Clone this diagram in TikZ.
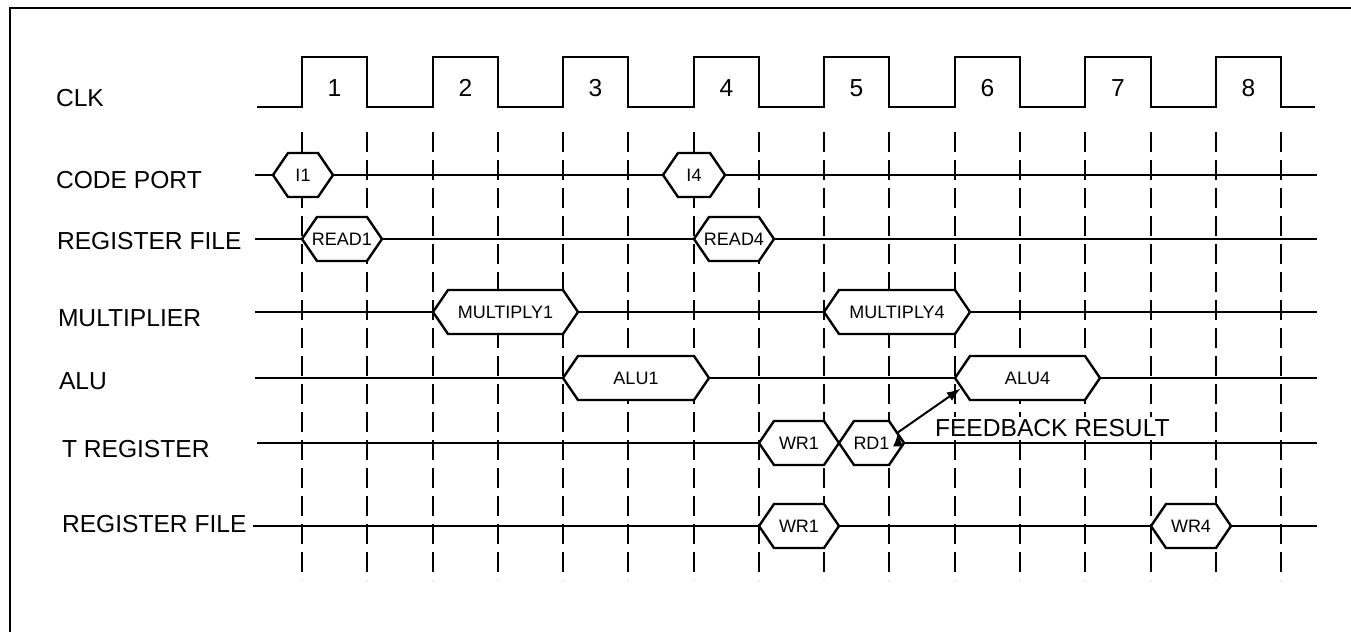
\documentclass[tikz,border=0pt]{standalone}
\usepackage{fontspec}
\setmainfont{Liberation Sans}
\usetikzlibrary{shapes.symbols,arrows.meta}
\tikzset{>={Latex[length=7pt,width=5pt]}}
\tikzset{
  phase/.style={signal,signal to=east and west,signal pointer angle=111.4,draw=black,line width=1.2pt,fill=white,minimum height=22pt,inner ysep=0pt,inner xsep=-8pt,font=\fontsize{9}{10}\selectfont},
  sig/.style={anchor=west,inner sep=0pt,font=\fontsize{12.3}{14}\selectfont},
  tick/.style={draw=black,line width=1pt,dash pattern=on 10pt off 4pt}
}

\begin{document}
\begin{tikzpicture}[x=0.5pt,y=-0.5pt,line width=1pt]
\useasboundingbox (0,0) rectangle (1351,632);
\draw (10,640) -- (10,8) -- (1360,8);
% clock edges
\draw[tick] (302,132) -- (302,580);
\draw[tick] (367,132) -- (367,580);
\draw[tick] (433,132) -- (433,580);
\draw[tick] (498,132) -- (498,580);
\draw[tick] (563,132) -- (563,580);
\draw[tick] (628,132) -- (628,580);
\draw[tick] (694,132) -- (694,580);
\draw[tick] (759,132) -- (759,580);
\draw[tick] (824,132) -- (824,580);
\draw[tick] (889,132) -- (889,580);
\draw[tick] (955,132) -- (955,580);
\draw[tick] (1020,132) -- (1020,580);
\draw[tick] (1085,132) -- (1085,580);
\draw[tick] (1151,132) -- (1151,580);
\draw[tick] (1216,132) -- (1216,580);
\draw[tick] (1281,132) -- (1281,580);
% clock
\draw (257,107) -- (302,107) -- (302,57) -- (367,57) -- (367,107) -- (433,107) -- (433,57) -- (498,57) -- (498,107) -- (563,107) -- (563,57) -- (628,57) -- (628,107) -- (694,107) -- (694,57) -- (759,57) -- (759,107) -- (824,107) -- (824,57) -- (889,57) -- (889,107) -- (955,107) -- (955,57) -- (1020,57) -- (1020,107) -- (1085,107) -- (1085,57) -- (1151,57) -- (1151,107) -- (1216,107) -- (1216,57) -- (1281,57) -- (1281,107) -- (1315,107);
\node[sig,anchor=center] (c1) at (334.5,88) {1};
\node[sig,anchor=center] (c2) at (465.5,88) {2};
\node[sig,anchor=center] (c3) at (595.5,88) {3};
\node[sig,anchor=center] (c4) at (726.5,88) {4};
\node[sig,anchor=center] (c5) at (856.5,88) {5};
\node[sig,anchor=center] (c6) at (987.5,88) {6};
\node[sig,anchor=center] (c7) at (1118,88) {7};
\node[sig,anchor=center] (c8) at (1248.5,88) {8};
% signal lines
\draw (255,175) -- (1317,175);
\draw (255,239) -- (1317,239);
\draw (255,312) -- (1317,312);
\draw (255,378) -- (1317,378);
\draw (257,443) -- (1317,443);
\draw (253,526) -- (1317,526);
% row labels
\node[sig] (clk) at (55,98) {CLK};
\node[sig] (code) at (55,180) {CODE PORT};
\node[sig] (regf) at (56,241) {REGISTER FILE};
\node[sig] (mult) at (57,318) {MULTIPLIER};
\node[sig] (alu) at (58,381) {ALU};
\node[sig] (treg) at (61,449) {T REGISTER};
\node[sig] (regw) at (61,524) {REGISTER FILE};
% phases
\node[phase,minimum width=30pt] (i1) at (303,175) {I1};
\node[phase,minimum width=31pt] (i4) at (694,175) {I4};
\node[phase,minimum width=40pt] (read1) at (342,239) {READ1};
\node[phase,minimum width=40pt] (read4) at (734,239) {READ4};
\node[phase,minimum width=72.5pt] (mul1) at (505.5,312) {MULTIPLY1};
\node[phase,minimum width=73pt] (mul4) at (897,312) {MULTIPLY4};
\node[phase,minimum width=73pt] (alu1) at (636,378) {ALU1};
\node[phase,minimum width=72.5pt] (alu4) at (1027.5,378) {ALU4};
\node[phase,minimum width=40pt] (wr1t) at (799,443) {WR1};
\node[phase,minimum width=32.5pt] (rd1) at (871.5,443) {RD1};
\node[phase,minimum width=40pt] (wr1r) at (799,526) {WR1};
\node[phase,minimum width=40pt] (wr4) at (1191,526) {WR4};
\node[sig,fill=white,inner sep=1pt] (fb) at (932,428) {FEEDBACK RESULT};
\path[draw=black,->] (rd1.22) edge (alu4.189);
\end{tikzpicture}
\end{document}
